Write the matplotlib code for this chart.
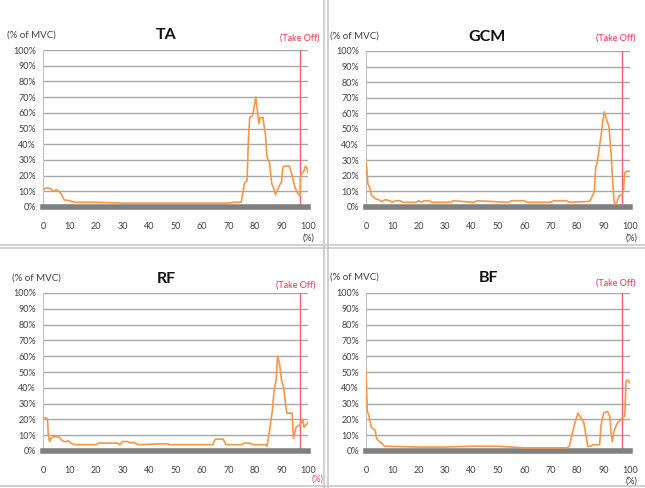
import matplotlib
matplotlib.use("Agg")
import matplotlib.pyplot as plt
from matplotlib.lines import Line2D

# EMG curves (x in % of movement, y in % of MVC)
ta_x = [0, 1, 2, 3, 4, 5, 6, 7, 8, 10, 12, 15, 20, 30, 40, 50, 60, 70, 72, 74.8,
        75.5, 76, 77, 77.5, 78, 79, 79.5, 80.3, 81, 81.5, 82, 83, 84, 84.5, 85.5,
        86.3, 87, 87.7, 88.5, 89, 90, 90.5, 91, 93, 94, 95, 96, 97, 97.2, 98, 98.5,
        99, 99.5, 100]
ta_y = [11, 12, 12, 11.5, 10, 11, 10, 8, 4.5, 4, 3, 3, 3, 2.5, 2.5, 2.5, 2.5, 2.5, 3, 3,
        10, 15, 17, 42, 57, 58, 62, 70, 60, 53, 57, 57, 45, 32, 28,
        15, 12, 8, 11, 13, 16, 25, 26, 26, 20, 13, 9, 7, 20, 22, 23,
        26, 25, 22]

gcm_x = [0, 0.3, 0.7, 1.5, 2, 3, 4, 5, 6, 7, 8, 9, 10, 11, 13, 14, 19, 20, 21, 22, 24,
         25, 32, 33, 41, 42, 54, 55, 58, 60, 61, 70, 71, 74, 76, 77, 84.8, 86, 86.5,
         87, 87.5, 88.3, 89, 89.7, 90.3, 90.8, 91.3, 92, 92.8, 93.5, 94, 94.5, 95,
         95.8, 97, 97.5, 98, 99, 100]
gcm_y = [28, 25, 15, 12, 8, 6, 5, 4.5, 3.5, 4.5, 4.5, 4, 3, 4, 4, 3, 3, 4, 3, 4, 4,
         3, 3, 4, 3, 4, 3, 4, 4, 4, 3, 3, 4, 4, 4, 3, 3.6, 8, 10,
         25, 28, 37, 45, 55, 61, 58, 55, 52, 35, 15, 3, 2, 3,
         7, 8, 10, 22, 23, 23]

rf_x = [0, 1, 1.7, 2, 2.5, 3, 4, 6, 7, 8, 9, 9.5, 10.5, 12, 20, 21, 28, 29, 30, 32,
        33, 34, 36, 44, 47, 48, 64, 65, 68, 69, 75, 76, 78, 79, 84, 84.5, 85.5, 86.5,
        87.3, 88, 88.5, 89.3, 90, 90.8, 91.5, 92, 94, 94.5, 95.5, 96.5, 97.5, 98,
        98.5, 99, 100]
rf_y = [21, 21, 20, 10, 6, 8, 9, 9, 7, 6, 6, 6.5, 5, 4, 4, 5, 5, 4, 6, 6,
        5, 5.5, 4, 4.5, 4.5, 4, 4, 7.5, 7.5, 4, 4, 5, 5, 4, 4, 3, 13, 25,
        40, 45, 60, 55, 45, 40, 30, 24, 24, 8, 15, 16, 18, 20,
        15, 16, 18]

bf_x = [0, 0.5, 1, 2, 3.5, 4, 5, 6, 7, 20, 30, 40, 50, 60, 70, 76, 77, 78, 79, 80.3,
        81, 82.5, 83.5, 84, 85, 86, 88, 88.5, 89, 90, 91.5, 92.3, 92.8, 93.3, 94, 95,
        96.5, 97.5, 98, 98.5, 99, 100]
bf_y = [50, 25, 23, 15, 13, 8, 6, 5, 3, 2.5, 2.5, 3, 3, 2, 2, 2, 3, 10, 17, 24,
        22, 18, 8, 3, 3, 4, 4, 4, 16, 24, 25, 22, 12, 6, 13, 17,
        20, 22, 22, 44, 45, 43]

names = ["TA", "GCM", "RF", "BF"]
curves = [(ta_x, ta_y), (gcm_x, gcm_y), (rf_x, rf_y), (bf_x, bf_y)]
take_off = 97

W, H = 645, 488
fig = plt.figure(figsize=(W / 100, H / 100), dpi=100)
plt.rcParams['font.family'] = ['Lato', 'DejaVu Sans']

# pixel boxes of the plot areas: left, top, right, bottom
boxes = [(43, 50, 308, 207), (366, 51, 630, 207), (43, 293, 308, 451), (366, 293, 630, 451)]
# text positions (pixels): title center, "% of MVC" left, "Take Off" right, "(%)" center
titles = [(166, 35), (487, 37), (166, 279), (488, 278)]
mvc = [(7, 35), (330, 36), (12, 278), (330, 277)]
toff = [(320, 38), (635, 38), (315, 285), (635, 283)]
pct = [(309, 238), (632, 238), (318, 479), (632, 481)]
pct_col = ["#404040", "#404040", "#e8506a", "#404040"]

for i in range(4):
    l, t, r, b = boxes[i]
    ax = fig.add_axes([l / W, (H - b) / H, (r - l) / W, (b - t) / H])
    ax.set_xlim(0, 100)
    ax.set_ylim(0, 100)
    ax.set_yticks(range(0, 101, 10))
    ax.set_yticklabels([str(v) + "%" for v in range(0, 101, 10)])
    ax.set_xticks(range(0, 101, 10))
    ax.tick_params(length=0, labelsize=6.5, colors="#404040")
    ax.tick_params(axis="x", pad=11)
    ax.tick_params(axis="y", pad=5)
    for s in ["top", "right", "bottom"]:
        ax.spines[s].set_visible(False)
    ax.spines["left"].set_color("#c0c0c0")
    ax.grid(axis="y", color="#a8a8a8", lw=1)
    ax.set_axisbelow(True)
    ax.axhline(0, color="#808080", lw=4, clip_on=False, zorder=3)
    ax.axvline(take_off, color="#f06070", lw=1, zorder=2)
    ax.plot(curves[i][0], curves[i][1], color="#f79646", lw=1.2, zorder=4)

    fig.text(titles[i][0] / W, 1 - titles[i][1] / H, names[i], ha="center", va="center",
             fontsize=11.5, fontweight="bold", color="#111111")
    fig.text(mvc[i][0] / W, 1 - mvc[i][1] / H, "(% of MVC)", ha="left", va="center",
             fontsize=7, color="#404040")
    fig.text(toff[i][0] / W, 1 - toff[i][1] / H, "(Take Off)", ha="right", va="center",
             fontsize=6.5, color="#f03050")
    fig.text(pct[i][0] / W, 1 - pct[i][1] / H, "(%)", ha="center", va="center",
             fontsize=6.5, color=pct_col[i])

# panel frames
fc = "#c8c8c8"
fig.add_artist(Line2D([324 / W, 324 / W], [0, 1], color=fc, lw=1.2))
fig.add_artist(Line2D([328 / W, 328 / W], [0, 1], color=fc, lw=1.2))
fig.add_artist(Line2D([0, 1], [1 - 245 / H, 1 - 245 / H], color=fc, lw=1.2))
fig.add_artist(Line2D([0, 1], [1 - 248 / H, 1 - 248 / H], color=fc, lw=1.2))
fig.add_artist(Line2D([0, 1], [1 - 486 / H, 1 - 486 / H], color=fc, lw=1.2))

fig.savefig("out.png", dpi=100)
